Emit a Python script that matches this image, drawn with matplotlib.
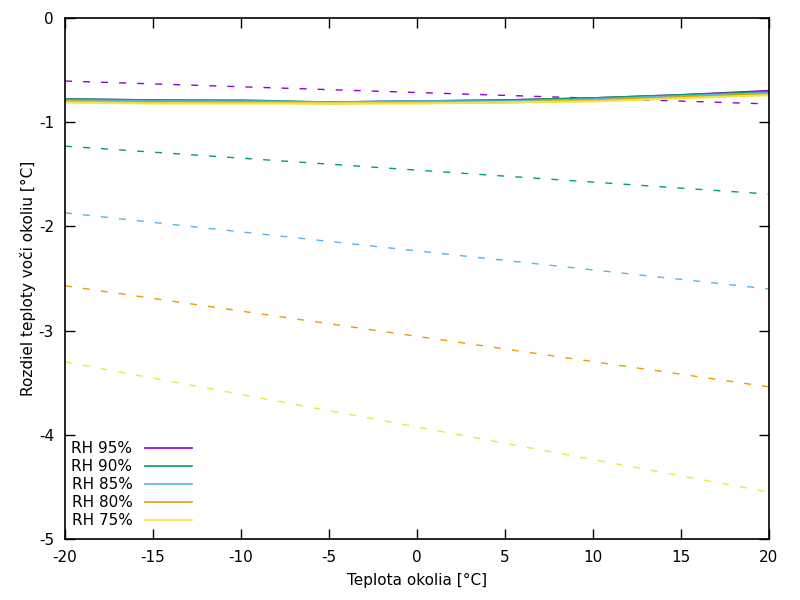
import matplotlib
matplotlib.use("Agg")
import matplotlib.pyplot as plt
import numpy as np

# Data
temps = [-20, -15, -10, -5, 0, 5, 10, 15, 20]
labels = ["RH 95%", "RH 90%", "RH 85%", "RH 80%", "RH 75%"]
colors = ["#9400d3", "#009e73", "#56b4e9", "#e69f00", "#f0e442"]

measured = {
    "RH 95%": [-0.78, -0.79, -0.80, -0.81, -0.80, -0.79, -0.77, -0.74, -0.70],
    "RH 90%": [-0.78, -0.79, -0.79, -0.81, -0.80, -0.79, -0.77, -0.74, -0.71],
    "RH 85%": [-0.79, -0.80, -0.80, -0.81, -0.80, -0.80, -0.78, -0.75, -0.72],
    "RH 80%": [-0.80, -0.81, -0.81, -0.82, -0.81, -0.81, -0.79, -0.76, -0.73],
    "RH 75%": [-0.81, -0.82, -0.82, -0.82, -0.82, -0.81, -0.80, -0.77, -0.74],
}

line_x = [-20, 20]
theory = {
    "RH 95%": [-0.605, -0.825],
    "RH 90%": [-1.23, -1.69],
    "RH 85%": [-1.87, -2.60],
    "RH 80%": [-2.57, -3.54],
    "RH 75%": [-3.30, -4.55],
}

plt.rcParams['font.family'] = ['DejaVu Sans']
plt.rcParams['axes.unicode_minus'] = False
fig = plt.figure(figsize=(8, 6), dpi=100)
ax = fig.add_axes([65/800, 61/600, 704/800, 521/600])

for lab, c in zip(labels, colors):
    ax.plot(line_x, theory[lab], color=c, lw=1.0, dashes=(5, 8))
for lab, c in zip(labels, colors):
    ax.plot(temps, measured[lab], color=c, lw=1.6, label=lab)

ax.set_xlim(-20, 20)
ax.set_ylim(-5, 0)
ax.set_xticks(np.arange(-20, 21, 5))
ax.set_yticks(np.arange(-5, 0.1, 1))
ax.tick_params(direction='in', length=7, width=1, top=True, right=True, labelsize=11, pad=8)
for s in ax.spines.values():
    s.set_linewidth(1.2)
ax.set_xlabel("Teplota okolia [°C]", fontsize=11, labelpad=6)
ax.set_ylabel("Rozdiel teploty voči okoliu [°C]", fontsize=11, labelpad=2)

leg = ax.legend(loc='lower left', frameon=False, markerfirst=False, fontsize=11,
                handlelength=3.1, labelspacing=0.2, borderaxespad=0.3,
                handletextpad=0.8, bbox_to_anchor=(-0.006, 0.0))
for h in leg.get_lines():
    h.set_linewidth(1.2)

fig.savefig("out.png", dpi=100)
